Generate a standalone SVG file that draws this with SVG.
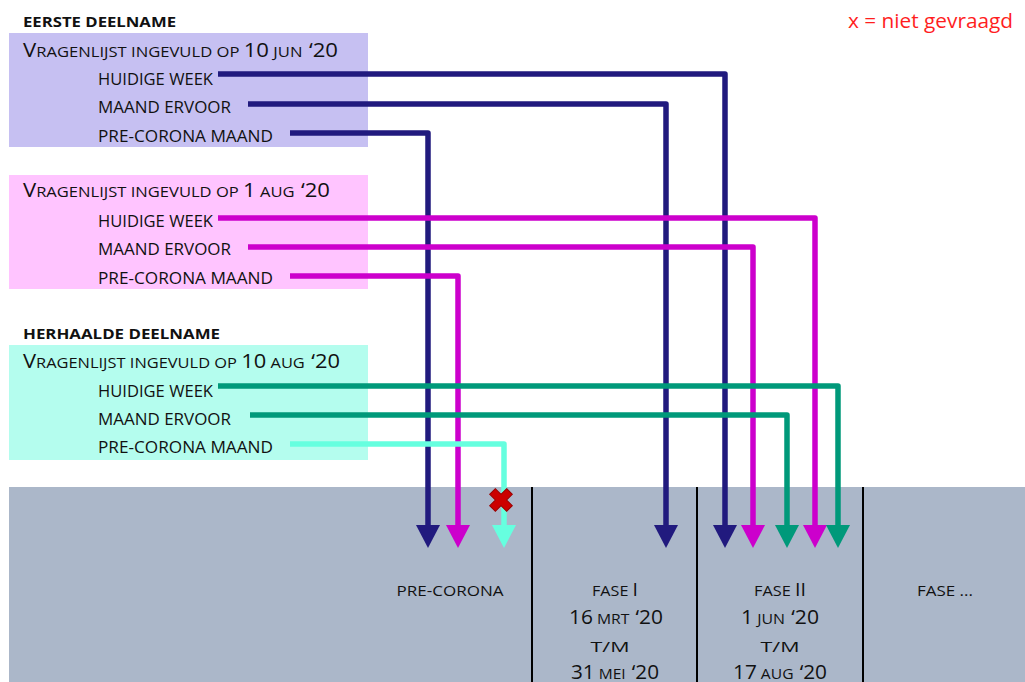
<svg xmlns="http://www.w3.org/2000/svg" width="1025" height="682" viewBox="0 0 1025 682">
<style>
text{font-family:"Open Sans","Noto Sans","DejaVu Sans",sans-serif;fill:#111;}
.hd{font-size:15px;}
.B{font-size:20px;}
.it{font-size:16.5px;}
.tt{font-size:14px;font-weight:bold;}
.bt{font-size:15px;text-anchor:middle;}
.ln{fill:none;stroke-width:5.5;stroke-linejoin:round;}
.div{stroke:#000;stroke-width:2;}
</style>
<defs>
<marker id="aBlue" viewBox="0 0 24 24" refX="1" refY="12" markerWidth="24" markerHeight="24" markerUnits="userSpaceOnUse" orient="auto"><path d="M0,0 L23,12 L0,24 z" fill="#211a7e"/></marker>
<marker id="aMag" viewBox="0 0 24 24" refX="1" refY="12" markerWidth="24" markerHeight="24" markerUnits="userSpaceOnUse" orient="auto"><path d="M0,0 L23,12 L0,24 z" fill="#cc00cc"/></marker>
<marker id="aTeal" viewBox="0 0 24 24" refX="1" refY="12" markerWidth="24" markerHeight="24" markerUnits="userSpaceOnUse" orient="auto"><path d="M0,0 L23,12 L0,24 z" fill="#00997a"/></marker>
<marker id="aAqua" viewBox="0 0 24 24" refX="1" refY="12" markerWidth="24" markerHeight="24" markerUnits="userSpaceOnUse" orient="auto"><path d="M0,0 L23,12 L0,24 z" fill="#66ffdf"/></marker>
</defs>
<rect width="1025" height="682" fill="#fff"/>
<text x="848" y="28" style="font-size:20px;fill:#ff1e1e;" textLength="165" lengthAdjust="spacingAndGlyphs">x = niet gevraagd</text>

<g id="band">
<rect x="9" y="487" width="1016" height="195" fill="#abb7c9"/>
<line class="div" x1="532" y1="487" x2="532" y2="682"/>
<line class="div" x1="697" y1="487" x2="697" y2="682"/>
<line class="div" x1="863" y1="487" x2="863" y2="682"/>
</g>

<g id="panel1">
<text class="tt" x="23" y="27" textLength="153" lengthAdjust="spacingAndGlyphs">EERSTE DEELNAME</text>
<rect x="9" y="33" width="359" height="114" fill="#c6c0f2"/>
<text class="hd" x="23" y="57" textLength="315" lengthAdjust="spacingAndGlyphs"><tspan class="B">V</tspan>RAGENLIJST INGEVULD OP <tspan class="B">10</tspan> JUN <tspan class="B" dx="2">‘20</tspan></text>
<text class="it" x="98" y="85" textLength="115" lengthAdjust="spacingAndGlyphs">HUIDIGE WEEK</text>
<text class="it" x="98" y="113" textLength="133" lengthAdjust="spacingAndGlyphs">MAAND ERVOOR</text>
<text class="it" x="98" y="142" textLength="175" lengthAdjust="spacingAndGlyphs">PRE-CORONA MAAND</text>
</g>

<g id="panel2">
<rect x="9" y="175" width="359" height="114" fill="#ffc4ff"/>
<text class="hd" x="23" y="197" textLength="307" lengthAdjust="spacingAndGlyphs"><tspan class="B">V</tspan>RAGENLIJST INGEVULD OP <tspan class="B">1</tspan> AUG <tspan class="B" dx="2">‘20</tspan></text>
<text class="it" x="98" y="227" textLength="115" lengthAdjust="spacingAndGlyphs">HUIDIGE WEEK</text>
<text class="it" x="98" y="255" textLength="133" lengthAdjust="spacingAndGlyphs">MAAND ERVOOR</text>
<text class="it" x="98" y="284" textLength="175" lengthAdjust="spacingAndGlyphs">PRE-CORONA MAAND</text>
</g>

<g id="panel3">
<text class="tt" x="23" y="339" textLength="197" lengthAdjust="spacingAndGlyphs">HERHAALDE DEELNAME</text>
<rect x="9" y="345" width="359" height="115" fill="#b4fdee"/>
<text class="hd" x="23" y="368" textLength="317" lengthAdjust="spacingAndGlyphs"><tspan class="B">V</tspan>RAGENLIJST INGEVULD OP <tspan class="B">10</tspan> AUG <tspan class="B" dx="2">‘20</tspan></text>
<text class="it" x="98" y="397" textLength="115" lengthAdjust="spacingAndGlyphs">HUIDIGE WEEK</text>
<text class="it" x="98" y="425" textLength="133" lengthAdjust="spacingAndGlyphs">MAAND ERVOOR</text>
<text class="it" x="98" y="453" textLength="175" lengthAdjust="spacingAndGlyphs">PRE-CORONA MAAND</text>
</g>

<g id="connectors">
<path class="ln" stroke="#211a7e" marker-end="url(#aBlue)" d="M218,74 H725 V526"/>
<path class="ln" stroke="#211a7e" marker-end="url(#aBlue)" d="M248,104 H666 V526"/>
<path class="ln" stroke="#211a7e" marker-end="url(#aBlue)" d="M290,133 H428 V526"/>
<path class="ln" stroke="#cc00cc" marker-end="url(#aMag)" d="M218,218 H815 V526"/>
<path class="ln" stroke="#cc00cc" marker-end="url(#aMag)" d="M248,247 H753 V526"/>
<path class="ln" stroke="#cc00cc" marker-end="url(#aMag)" d="M290,276 H458 V526"/>
<path class="ln" stroke="#00997a" marker-end="url(#aTeal)" d="M218,386 H838 V526"/>
<path class="ln" stroke="#00997a" marker-end="url(#aTeal)" d="M250,415 H787 V526"/>
<path class="ln" stroke="#66ffdf" marker-end="url(#aAqua)" d="M290,444 H504 V526"/>
</g>

<g id="cross">
<polygon transform="translate(501,500) rotate(45)" points="-4,-12 4,-12 4,-4 12,-4 12,4 4,4 4,12 -4,12 -4,4 -12,4 -12,-4 -4,-4" fill="#cc0000" stroke="#990000" stroke-width="1"/>
</g>

<g id="labels">
<text class="bt" x="450" y="596" textLength="107" lengthAdjust="spacingAndGlyphs">PRE-CORONA</text>
<text class="bt" x="615" y="596" textLength="46" lengthAdjust="spacingAndGlyphs">FASE <tspan style="font-size:18px">I</tspan></text>
<text class="bt" x="616" y="624" textLength="94" lengthAdjust="spacingAndGlyphs"><tspan class="B">16</tspan> MRT <tspan class="B" dx="2">‘20</tspan></text>
<text class="bt" x="610" y="652" textLength="39" lengthAdjust="spacingAndGlyphs">T/M</text>
<text class="bt" x="615" y="679" textLength="88" lengthAdjust="spacingAndGlyphs"><tspan class="B">31</tspan> MEI <tspan class="B" dx="2">‘20</tspan></text>
<text class="bt" x="780" y="596" textLength="52" lengthAdjust="spacingAndGlyphs">FASE <tspan style="font-size:18px">II</tspan></text>
<text class="bt" x="780" y="624" textLength="78" lengthAdjust="spacingAndGlyphs"><tspan class="B">1</tspan> JUN <tspan class="B" dx="2">‘20</tspan></text>
<text class="bt" x="780" y="652" textLength="39" lengthAdjust="spacingAndGlyphs">T/M</text>
<text class="bt" x="780" y="679" textLength="94" lengthAdjust="spacingAndGlyphs"><tspan class="B">17</tspan> AUG <tspan class="B" dx="2">‘20</tspan></text>
<text class="bt" x="945" y="596" textLength="56" lengthAdjust="spacingAndGlyphs">FASE ...</text>
</g>
</svg>
